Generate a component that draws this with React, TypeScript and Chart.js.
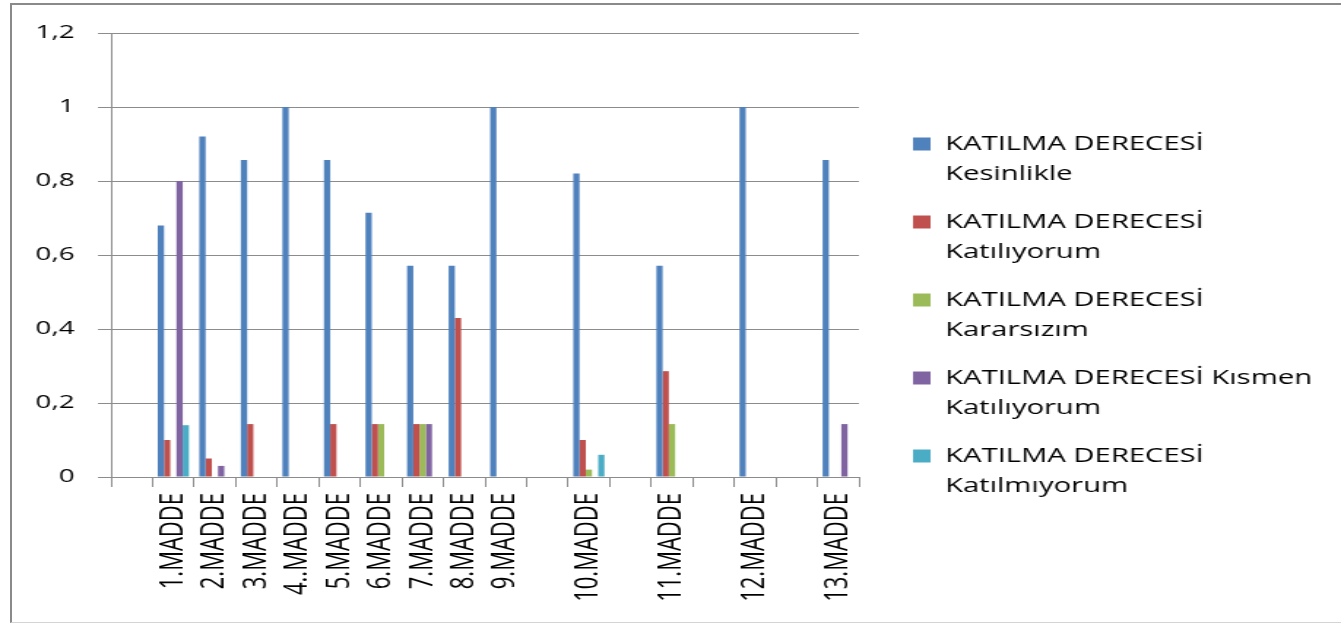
import React, { useEffect, useRef } from 'react';
import { Chart, registerables } from 'chart.js';

Chart.register(...registerables);

// ---- data ----
const categories = ['', '1.MADDE', '2.MADDE', '3.MADDE', '4..MADDE', '5.MADDE', '6.MADDE', '7.MADDE', '8.MADDE', '9.MADDE', '', '10.MADDE', '', '11.MADDE', '', '12.MADDE', '', '13.MADDE'];

const kesinlikle = [null, 0.68, 0.92, 0.857, 1, 0.857, 0.714, 0.571, 0.571, 1, null, 0.82, null, 0.571, null, 1, null, 0.857];
const katiliyorum = [null, 0.1, 0.05, 0.143, 0, 0.143, 0.143, 0.143, 0.43, 0, null, 0.1, null, 0.286, null, 0, null, 0];
const kararsizim = [null, 0, 0, 0, 0, 0, 0.143, 0.143, 0, 0, null, 0.02, null, 0.143, null, 0, null, 0];
const kismenKatiliyorum = [null, 0.8, 0.03, 0, 0, 0, 0, 0.143, 0, 0, null, 0, null, 0, null, 0, null, 0.143];
const katilmiyorum = [null, 0.14, 0, 0, 0, 0, 0, 0, 0, 0, null, 0.06, null, 0, null, 0, null, 0];

const seriesNames = [
  'KATILMA DERECESİ Kesinlikle',
  'KATILMA DERECESİ Katılıyorum',
  'KATILMA DERECESİ Kararsızım',
  'KATILMA DERECESİ Kısmen Katılıyorum',
  'KATILMA DERECESİ Katılmıyorum',
];
const legendLines = [
  ['KATILMA DERECESİ', 'Kesinlikle'],
  ['KATILMA DERECESİ', 'Katılıyorum'],
  ['KATILMA DERECESİ', 'Kararsızım'],
  ['KATILMA DERECESİ Kısmen', 'Katılıyorum'],
  ['KATILMA DERECESİ', 'Katılmıyorum'],
];
const seriesColors = ['#4F81BD', '#C0504D', '#9BBB59', '#8064A2', '#4BACC6'];
const yTickLabels = ['0', '0,2', '0,4', '0,6', '0,8', '1', '1,2'];

// ---- layout (logical canvas is stretched horizontally like the source) ----
const W = 918;
const H = 624;
const SX = 1341 / W;
const FONT = 'Open Sans';
const GRID = '#8c8c8c';
const PLOT_RIGHT = 588;
const LEGEND_LEFT = 607;
const LEGEND_W = 250;
const PAD_TOP = 16;

const legendExtend = {
  id: 'legendExtend',
  afterLayout(chart: any) {
    if (chart.legend) {
      chart.legend.right = W;
      chart.legend.width = W - chart.legend.left;
    }
  },
};

export default function App() {
  const ref = useRef<HTMLCanvasElement>(null);

  useEffect(() => {
    document.body.style.margin = '0';
    document.body.style.overflow = 'hidden';
    const values = [kesinlikle, katiliyorum, kararsizim, kismenKatiliyorum, katilmiyorum];
    const chart = new Chart(ref.current as HTMLCanvasElement, {
      type: 'bar',
      data: {
        labels: categories,
        datasets: values.map((d, i) => ({
          label: seriesNames[i],
          data: d,
          backgroundColor: seriesColors[i],
          borderWidth: 0,
          categoryPercentage: 0.75,
          barPercentage: 1,
        })),
      },
      plugins: [legendExtend],
      options: {
        animation: false,
        responsive: true,
        maintainAspectRatio: false,
        layout: {
          padding: { top: PAD_TOP, bottom: 0, left: 0, right: W - LEGEND_LEFT - LEGEND_W },
        },
        plugins: {
          tooltip: { enabled: false },
          legend: {
            position: 'right',
            align: 'center',
            maxWidth: LEGEND_W,
            labels: {
              boxWidth: 12,
              boxHeight: 13,
              padding: 18,
              color: '#000',
              font: { family: FONT, size: 20, lineHeight: '30px' } as any,
              generateLabels: (c: any) =>
                c.data.datasets.map((ds: any, i: number) => ({
                  text: legendLines[i],
                  fillStyle: ds.backgroundColor,
                  strokeStyle: ds.backgroundColor,
                  lineWidth: 0,
                  hidden: false,
                  datasetIndex: i,
                  fontColor: '#000',
                })),
            },
          },
        },
        scales: {
          x: {
            type: 'category',
            offset: true,
            grid: {
              display: true,
              drawOnChartArea: false,
              drawTicks: true,
              tickLength: 10,
              color: GRID,
              offset: true,
            },
            border: { display: true, color: GRID, width: 1 },
            ticks: {
              autoSkip: false,
              minRotation: 90,
              maxRotation: 90,
              padding: 6,
              color: '#000',
              font: { family: FONT, size: 22 },
            },
            afterFit: (s: any) => {
              s.height = 147;
            },
          },
          y: {
            type: 'linear',
            min: 0,
            max: 1.2,
            ticks: {
              stepSize: 0.2,
              padding: 16,
              color: '#000',
              font: { family: FONT, size: 19 },
              callback: (_v: any, i: number) => yTickLabels[i],
            },
            grid: { color: GRID, tickLength: 9, drawTicks: true },
            border: { color: GRID, width: 1 },
            afterFit: (s: any) => {
              s.width = 76;
              s.paddingTop = 33;
            },
          },
          yGap: {
            type: 'linear',
            position: 'right',
            display: true,
            grid: { display: false },
            ticks: { display: false },
            border: { display: false },
            afterFit: (s: any) => {
              s.width = LEGEND_LEFT - PLOT_RIGHT;
            },
          },
        },
      } as any,
    });
    return () => chart.destroy();
  }, []);

  return (
    <div style={{ position: 'absolute', left: 0, top: 0, width: 1341, height: H, overflow: 'hidden', background: '#fff' }}>
      <div
        style={{
          position: 'absolute',
          left: 0,
          top: 0,
          width: W,
          height: H,
          transform: `scaleX(${SX})`,
          transformOrigin: '0 0',
        }}
      >
        <canvas ref={ref} />
      </div>
      <div
        style={{
          position: 'absolute',
          left: 10,
          top: 3,
          width: 1331,
          height: 620,
          boxSizing: 'border-box',
          borderLeft: '2px solid #8a8a8a',
          borderTop: '2px solid #8a8a8a',
          borderBottom: '1px solid #d4d4d4',
          pointerEvents: 'none',
        }}
      />
    </div>
  );
}
